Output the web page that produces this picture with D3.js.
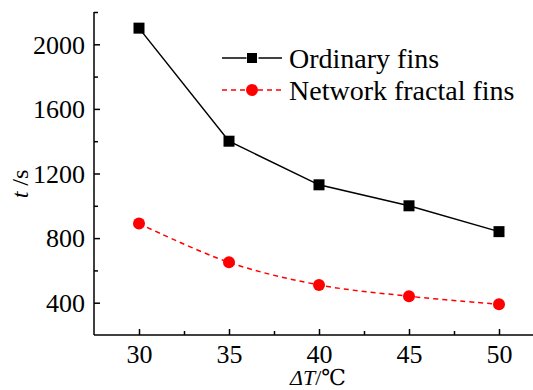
<!DOCTYPE html>
<html>
<head>
<meta charset="utf-8">
<script src="https://cdn.jsdelivr.net/npm/d3@7"></script>
<style>
  body { margin: 0; background: #fff; }
</style>
</head>
<body>
<svg id="chart" width="533" height="390"></svg>
<script>
// data
const deltaT = [30, 35, 40, 45, 50];
const ordinaryFins = [2100, 1400, 1130, 1000, 840];
const fractalFins = [890, 650, 510, 440, 390];
const seriesNames = ['Ordinary fins', 'Network fractal fins'];
const yTicks = [400, 800, 1200, 1600, 2000];
const xTicks = [30, 35, 40, 45, 50];

const serif = "'Liberation Serif', 'DejaVu Serif', serif";

const svg = d3.select('#chart');
const plotLeft = 94, plotTop = 12, plotBottom = 335, plotRight = 535;

const x = d3.scaleLinear().domain([27.5, 52]).range([plotLeft, plotRight]);
const y = d3.scaleLinear().domain([200, 2200]).range([plotBottom, plotTop]);

// axes, ticks pointing inward
const yAxis = d3.axisLeft(y).tickValues(yTicks).tickFormat(d3.format('d')).tickSize(-6).tickPadding(9);
const yMinor = d3.axisLeft(y).tickValues(d3.range(600, 2201, 400)).tickSize(-4).tickFormat('');
const xAxis = d3.axisBottom(x).tickValues(xTicks).tickFormat(d3.format('d')).tickSize(-6).tickPadding(9);
const xMinor = d3.axisBottom(x).tickValues([32.5, 37.5, 42.5, 47.5]).tickSize(-4).tickFormat('');

function styleAxis(g) {
  g.attr('font-family', null).attr('font-size', null);
  g.selectAll('path, line').attr('stroke', '#000').attr('stroke-width', 1.5);
  g.selectAll('text').style('font-family', serif).style('font-size', '26px').attr('fill', '#000');
  g.select('.domain').remove();
}

const gy = svg.append('g').attr('transform', `translate(${plotLeft},0)`).call(yAxis).call(styleAxis);
gy.selectAll('text').attr('dy', '0.34em');
svg.append('g').attr('transform', `translate(${plotLeft},0)`).call(yMinor).call(styleAxis);
const gx = svg.append('g').attr('transform', `translate(0,${plotBottom})`).call(xAxis).call(styleAxis);
gx.selectAll('text').attr('dy', '0.72em');
svg.append('g').attr('transform', `translate(0,${plotBottom})`).call(xMinor).call(styleAxis);

// axis lines
svg.append('line').attr('x1', plotLeft).attr('x2', plotLeft).attr('y1', plotTop).attr('y2', plotBottom)
  .attr('stroke', '#000').attr('stroke-width', 1.5);
svg.append('line').attr('x1', plotLeft).attr('x2', plotRight).attr('y1', plotBottom).attr('y2', plotBottom)
  .attr('stroke', '#000').attr('stroke-width', 1.5);

// series
const ordPts = deltaT.map((t, i) => [t, ordinaryFins[i]]);
const fraPts = deltaT.map((t, i) => [t, fractalFins[i]]);
const straight = d3.line().x(d => x(d[0])).y(d => y(d[1]));
const smooth = d3.line().x(d => x(d[0])).y(d => y(d[1])).curve(d3.curveCatmullRom.alpha(0.5));

svg.append('path').attr('d', straight(ordPts))
  .attr('fill', 'none').attr('stroke', '#000').attr('stroke-width', 1.5);
svg.append('path').attr('d', smooth(fraPts))
  .attr('fill', 'none').attr('stroke', '#f00').attr('stroke-width', 1.5)
  .attr('stroke-dasharray', '5,4');

svg.selectAll('.sq').data(ordPts).enter().append('rect')
  .attr('x', d => x(d[0]) - 5.5).attr('y', d => y(d[1]) - 5.5)
  .attr('width', 11).attr('height', 11).attr('fill', '#000');
svg.selectAll('.dot').data(fraPts).enter().append('circle')
  .attr('cx', d => x(d[0])).attr('cy', d => y(d[1])).attr('r', 6).attr('fill', '#f00');

// legend
const legend = svg.append('g').attr('transform', 'translate(222,58)');
legend.append('line').attr('x1', 0).attr('x2', 60).attr('stroke', '#000').attr('stroke-width', 1.5);
legend.append('rect').attr('x', 24.5).attr('y', -6).attr('width', 12).attr('height', 12).attr('fill', '#fff');
legend.append('rect').attr('x', 25).attr('y', -5).attr('width', 10).attr('height', 10).attr('fill', '#000');
legend.append('line').attr('x1', 0).attr('x2', 60).attr('y1', 32).attr('y2', 32)
  .attr('stroke', '#f00').attr('stroke-width', 1.5).attr('stroke-dasharray', '5,4');
legend.append('circle').attr('cx', 30).attr('cy', 32).attr('r', 6).attr('fill', '#f00');
legend.selectAll('.lt').data(seriesNames).enter().append('text')
  .attr('x', 67).attr('y', (d, i) => i * 32).attr('dy', '0.35em')
  .style('font-family', serif).style('font-size', '28px').text(d => d);

// axis titles
svg.append('text').attr('transform', 'translate(28,184) rotate(-90)')
  .attr('text-anchor', 'middle').style('font-family', serif).style('font-size', '24px')
  .html('<tspan font-style="italic">t</tspan> /s');
svg.append('text').attr('x', 318).attr('y', 385)
  .attr('text-anchor', 'middle').style('font-family', serif).style('font-size', '22px')
  .html('<tspan font-style="italic">ΔT</tspan>/℃');
</script>
</body>
</html>
